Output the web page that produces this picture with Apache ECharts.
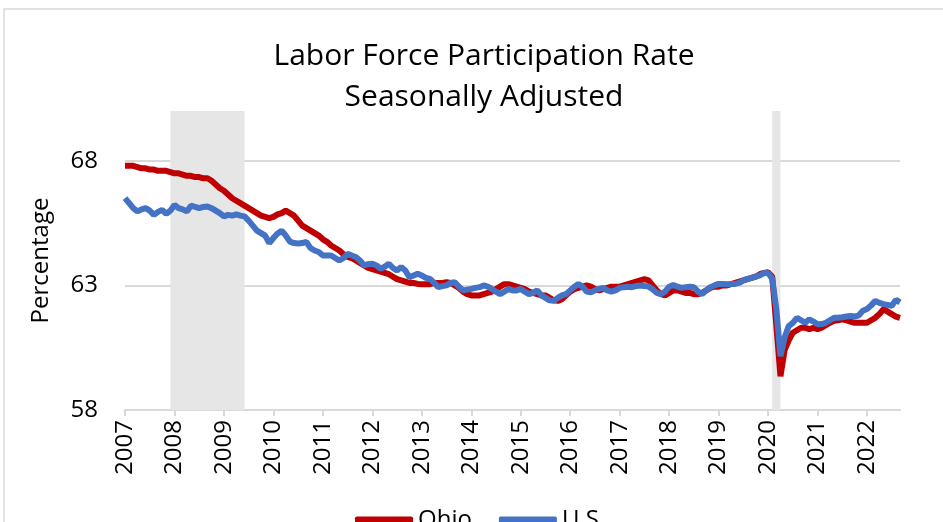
<!DOCTYPE html>
<html>
<head>
<meta charset="utf-8">
<script src="https://cdn.jsdelivr.net/npm/echarts@6/dist/echarts.min.js"></script>
<style>
  html, body { margin: 0; padding: 0; background: #fff; }
  #main { width: 943px; height: 522px; }
</style>
</head>
<body>
<div id="main"></div>
<script>
// years on the x axis, data is monthly Jan 2007 - Sep 2022
const years = [2007, 2008, 2009, 2010, 2011, 2012, 2013, 2014, 2015, 2016, 2017, 2018, 2019, 2020, 2021, 2022];
const lastMonth = 9;

const ohio = [
  67.8, 67.8, 67.8, 67.75, 67.7, 67.7, 67.65, 67.65, 67.6, 67.6, 67.6, 67.55,
  67.5, 67.5, 67.45, 67.4, 67.4, 67.35, 67.35, 67.3, 67.3, 67.2, 67.05, 66.9,
  66.8, 66.65, 66.5, 66.4, 66.3, 66.2, 66.1, 66.0, 65.9, 65.8, 65.75, 65.7,
  65.75, 65.85, 65.9, 66.0, 65.9, 65.8, 65.6, 65.4, 65.3, 65.2, 65.1, 65.0,
  64.85, 64.75, 64.6, 64.5, 64.4, 64.25, 64.15, 64.1, 64.0, 63.9, 63.8, 63.7,
  63.65, 63.6, 63.55, 63.5, 63.45, 63.35, 63.25, 63.2, 63.15, 63.1, 63.1, 63.06,
  63.05, 63.05, 63.05, 63.1, 63.1, 63.1, 63.13, 63.1, 63.0, 62.9, 62.75, 62.65,
  62.6, 62.6, 62.6, 62.65, 62.7, 62.75, 62.85, 62.95, 63.05, 63.05, 63.0, 62.95,
  62.9, 62.85, 62.75, 62.7, 62.65, 62.6, 62.6, 62.5, 62.4, 62.38, 62.45, 62.6,
  62.75, 62.85, 62.9, 62.95, 63.0, 62.95, 62.85, 62.8, 62.85, 62.9, 62.95, 62.95,
  62.95, 63.0, 63.05, 63.1, 63.15, 63.2, 63.25, 63.2, 63.0, 62.8, 62.65, 62.6,
  62.7, 62.8, 62.8, 62.75, 62.7, 62.7, 62.65, 62.65, 62.7, 62.8, 62.9, 62.95,
  62.95, 63.0, 63.0, 63.05, 63.1, 63.15, 63.2, 63.25, 63.3, 63.35, 63.45, 63.5,
  63.53, 63.35, 61.4, 59.35, 60.4, 60.8, 61.1, 61.2, 61.3, 61.3, 61.25, 61.3,
  61.24, 61.3, 61.4, 61.5, 61.58, 61.6, 61.64, 61.6, 61.55, 61.5, 61.5, 61.5,
  61.5, 61.6, 61.7, 61.85, 62.05, 61.95, 61.85, 61.75, 61.7
];

const us = [
  66.5, 66.3, 66.1, 65.97, 66.05, 66.1, 66.0, 65.83, 65.95, 66.03, 65.87, 66.0,
  66.23, 66.1, 66.05, 65.97, 66.2, 66.15, 66.1, 66.15, 66.17, 66.1, 66.0, 65.9,
  65.77, 65.83, 65.8, 65.85, 65.8, 65.77, 65.6, 65.4, 65.2, 65.1, 65.0, 64.7,
  64.9, 65.08, 65.2, 65.0, 64.76, 64.7, 64.68, 64.7, 64.75, 64.5, 64.4, 64.34,
  64.2, 64.2, 64.2, 64.1, 64.0, 64.1, 64.27, 64.2, 64.14, 64.0, 63.8, 63.85,
  63.87, 63.8, 63.67, 63.75, 63.87, 63.7, 63.6, 63.74, 63.6, 63.33, 63.4, 63.47,
  63.4, 63.3, 63.26, 63.1, 62.93, 62.97, 63.0, 63.1, 63.13, 62.95, 62.8, 62.83,
  62.86, 62.9, 62.93, 63.0, 62.95, 62.86, 62.75, 62.65, 62.75, 62.86, 62.8, 62.8,
  62.86, 62.75, 62.65, 62.7, 62.8, 62.6, 62.5, 62.4, 62.38, 62.5, 62.6, 62.65,
  62.8, 62.95, 63.06, 62.95, 62.75, 62.72, 62.8, 62.86, 62.9, 62.8, 62.75, 62.8,
  62.9, 62.93, 62.95, 62.93, 62.98, 63.0, 62.98, 62.95, 62.85, 62.7, 62.65, 62.75,
  62.95, 63.02, 62.95, 62.9, 62.93, 62.95, 62.93, 62.75, 62.65, 62.8, 62.93, 63.0,
  63.06, 63.06, 63.05, 63.06, 63.06, 63.1, 63.2, 63.26, 63.3, 63.35, 63.4, 63.5,
  63.5, 63.27, 62.05, 60.16, 60.9, 61.37, 61.5, 61.7, 61.6, 61.5, 61.64, 61.55,
  61.44, 61.45, 61.5, 61.6, 61.7, 61.7, 61.72, 61.75, 61.77, 61.75, 61.8, 61.98,
  62.05, 62.2, 62.38, 62.3, 62.25, 62.22, 62.18, 62.42, 62.32
];

// recessions (shaded)
const recessions = [['2007-12', '2009-06'], ['2020-02', '2020-04']];

let months = [];
years.forEach(y => {
  let n = y === years[years.length - 1] ? lastMonth : 12;
  for (let m = 1; m <= n; m++) {
    months.push(y + '-' + (m < 10 ? '0' + m : m));
  }
});

const font = '"Open Sans", "Noto Sans", sans-serif';
const gray = '#d9d9d9';

let chart = echarts.init(document.getElementById('main'));
chart.setOption({
  animation: false,
  backgroundColor: '#fff',
  graphic: [{
    type: 'rect',
    shape: { x: 4, y: 9, width: 1000, height: 600 },
    style: { fill: 'none', stroke: gray, lineWidth: 1.5 },
    silent: true
  }],
  title: {
    text: 'Labor Force Participation Rate\nSeasonally Adjusted',
    left: 479,
    textAlign: 'center',
    top: 31,
    textStyle: {
      fontFamily: font,
      fontWeight: 'normal',
      fontSize: 30,
      lineHeight: 41,
      color: '#000'
    }
  },
  legend: {
    data: ['Ohio', 'U.S.'],
    left: 350,
    top: 503,
    itemWidth: 58,
    itemHeight: 7,
    itemGap: 27,
    icon: 'roundRect',
    textStyle: { fontFamily: font, fontSize: 24, color: '#000' }
  },
  grid: { left: 125, right: 43, top: 111, bottom: 112 },
  xAxis: {
    type: 'category',
    data: months,
    boundaryGap: false,
    axisLine: { lineStyle: { color: gray, width: 2 } },
    axisTick: {
      interval: i => i % 12 === 0,
      length: 6,
      lineStyle: { color: gray, width: 2 }
    },
    axisLabel: {
      interval: i => i % 12 === 0,
      formatter: v => v.slice(0, 4),
      rotate: 90,
      margin: 10,
      fontFamily: font,
      fontSize: 24,
      color: '#000'
    },
    splitLine: { show: false }
  },
  yAxis: {
    type: 'value',
    min: 58,
    max: 70,
    interval: 5,
    name: 'Percentage',
    nameLocation: 'middle',
    nameGap: 72,
    nameTextStyle: { fontFamily: font, fontSize: 24, color: '#000' },
    axisLine: { show: false },
    axisTick: { show: false },
    axisLabel: {
      showMaxLabel: false,
      margin: 27,
      fontFamily: font,
      fontSize: 24,
      color: '#000'
    },
    splitLine: {
      showMaxLine: false,
      lineStyle: { color: gray, width: 2 }
    }
  },
  series: [{
    name: 'Ohio',
    type: 'line',
    data: ohio,
    showSymbol: false,
    itemStyle: { color: '#C00000' },
    lineStyle: { width: 6, color: '#C00000' },
    markArea: {
      silent: true,
      itemStyle: { color: '#e6e6e6' },
      data: recessions.map(r => [{ xAxis: r[0] }, { xAxis: r[1] }])
    }
  }, {
    name: 'U.S.',
    type: 'line',
    data: us,
    showSymbol: false,
    itemStyle: { color: '#4472C4' },
    lineStyle: { width: 6, color: '#4472C4' }
  }]
});
</script>
</body>
</html>
